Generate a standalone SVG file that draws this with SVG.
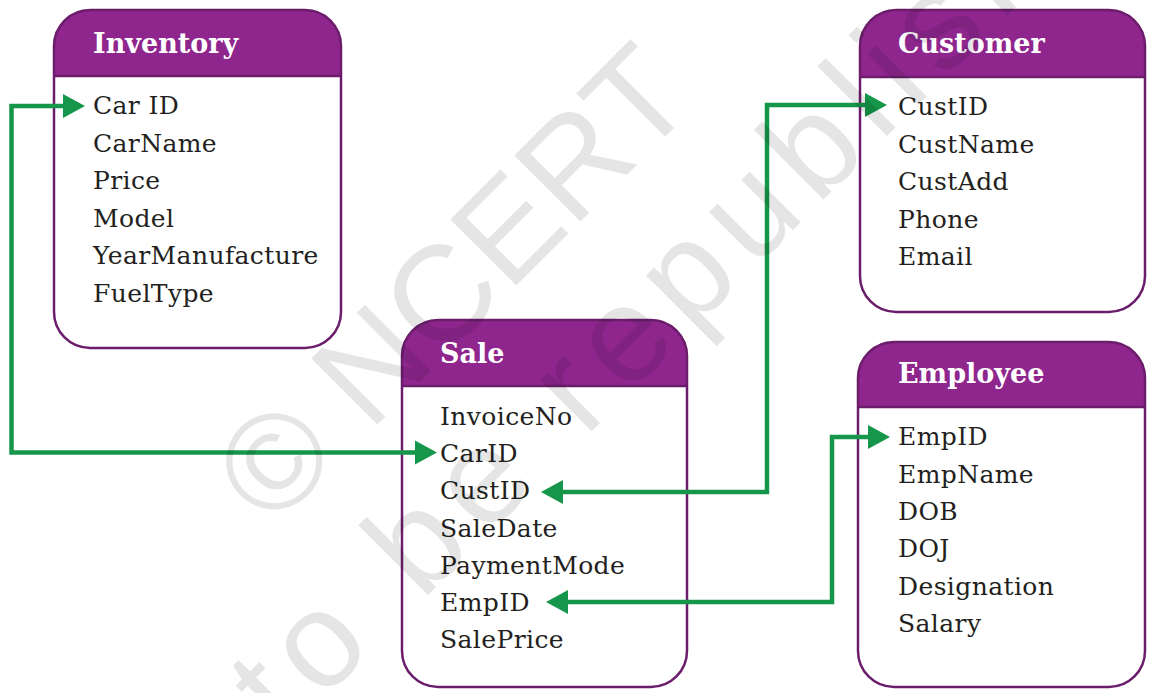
<svg xmlns="http://www.w3.org/2000/svg" width="1150" height="693" viewBox="0 0 1150 693">
  <defs>
    <style>
      .body { fill: #ffffff; stroke: none; }
      .hdr { fill: #8f268e; stroke: none; }
      .sep { stroke: #6b1d6b; stroke-width: 2.5; }
      .frame { fill: none; stroke: #6b1d6b; stroke-width: 2.5; }
      .title { font-family: "DejaVu Serif", "Liberation Serif", serif; font-weight: bold; font-size: 27px; fill: #ffffff; }
      .field { font-family: "DejaVu Serif", "Liberation Serif", serif; font-size: 25px; letter-spacing: 0.4px; fill: #231f20; }
      .conn { fill: none; stroke: #16964a; stroke-width: 4.5; stroke-linejoin: miter; }
      .wm { font-family: "Liberation Sans", Arial, sans-serif; font-size: 136px; fill: #000000; fill-opacity: 0.1; }
    </style>
    <marker id="arr" markerUnits="userSpaceOnUse" viewBox="0 0 24 26" markerWidth="24" markerHeight="26" refX="1" refY="13" orient="auto-start-reverse">
      <path d="M0,1 L22,13 L0,25 Z" fill="#16964a"/>
    </marker>
  </defs>
  <rect width="1150" height="693" fill="#ffffff"/>

  <g id="inventory">
    <rect class="body" x="54" y="10" width="287" height="338" rx="36"/>
    <path class="hdr" d="M54,76 V46 A36,36 0 0 1 90,10 H305 A36,36 0 0 1 341,46 V76 Z"/>
    <line class="sep" x1="54" y1="76" x2="341" y2="76"/>
    <rect class="frame" x="54" y="10" width="287" height="338" rx="36"/>
    <text class="title" x="93" y="53">Inventory</text>
    <text class="field" x="93" y="114">Car ID</text>
    <text class="field" x="93" y="151.5">CarName</text>
    <text class="field" x="93" y="189">Price</text>
    <text class="field" x="93" y="226.5">Model</text>
    <text class="field" x="93" y="264">YearManufacture</text>
    <text class="field" x="93" y="301.5">FuelType</text>
  </g>

  <g id="customer">
    <rect class="body" x="860" y="10" width="285" height="302" rx="36"/>
    <path class="hdr" d="M860,77 V46 A36,36 0 0 1 896,10 H1109 A36,36 0 0 1 1145,46 V77 Z"/>
    <line class="sep" x1="860" y1="77" x2="1145" y2="77"/>
    <rect class="frame" x="860" y="10" width="285" height="302" rx="36"/>
    <text class="title" x="898" y="53">Customer</text>
    <text class="field" x="898" y="115">CustID</text>
    <text class="field" x="898" y="152.5">CustName</text>
    <text class="field" x="898" y="190">CustAdd</text>
    <text class="field" x="898" y="227.5">Phone</text>
    <text class="field" x="898" y="265">Email</text>
  </g>

  <g id="sale">
    <rect class="body" x="402" y="320" width="285" height="367" rx="36"/>
    <path class="hdr" d="M402,386 V356 A36,36 0 0 1 438,320 H651 A36,36 0 0 1 687,356 V386 Z"/>
    <line class="sep" x1="402" y1="386" x2="687" y2="386"/>
    <rect class="frame" x="402" y="320" width="285" height="367" rx="36"/>
    <text class="title" x="440" y="363">Sale</text>
    <text class="field" x="440" y="425">InvoiceNo</text>
    <text class="field" x="440" y="462">CarID</text>
    <text class="field" x="440" y="499">CustID</text>
    <text class="field" x="440" y="536.5">SaleDate</text>
    <text class="field" x="440" y="573.5">PaymentMode</text>
    <text class="field" x="440" y="611">EmpID</text>
    <text class="field" x="440" y="648">SalePrice</text>
  </g>

  <g id="employee">
    <rect class="body" x="858" y="342" width="287" height="345" rx="36"/>
    <path class="hdr" d="M858,407 V378 A36,36 0 0 1 894,342 H1109 A36,36 0 0 1 1145,378 V407 Z"/>
    <line class="sep" x1="858" y1="407" x2="1145" y2="407"/>
    <rect class="frame" x="858" y="342" width="287" height="345" rx="36"/>
    <text class="title" x="898" y="383">Employee</text>
    <text class="field" x="898" y="445">EmpID</text>
    <text class="field" x="898" y="482.5">EmpName</text>
    <text class="field" x="898" y="520">DOB</text>
    <text class="field" x="898" y="557">DOJ</text>
    <text class="field" x="898" y="594.5">Designation</text>
    <text class="field" x="898" y="632">Salary</text>
  </g>

  <g id="connectors">
    <path class="conn" d="M64,106 H11.5 V452.5 H416" marker-start="url(#arr)" marker-end="url(#arr)"/>
    <path class="conn" d="M562,492 H767 V105 H866" marker-start="url(#arr)" marker-end="url(#arr)"/>
    <path class="conn" d="M567,602 H832 V437 H869" marker-start="url(#arr)" marker-end="url(#arr)"/>
  </g>

  <g id="watermark">
    <text class="wm" transform="translate(272,530) rotate(-45)">© NCERT</text>
    <text class="wm" letter-spacing="14" transform="translate(285,738) rotate(-45)">to be republished</text>
  </g>
</svg>
